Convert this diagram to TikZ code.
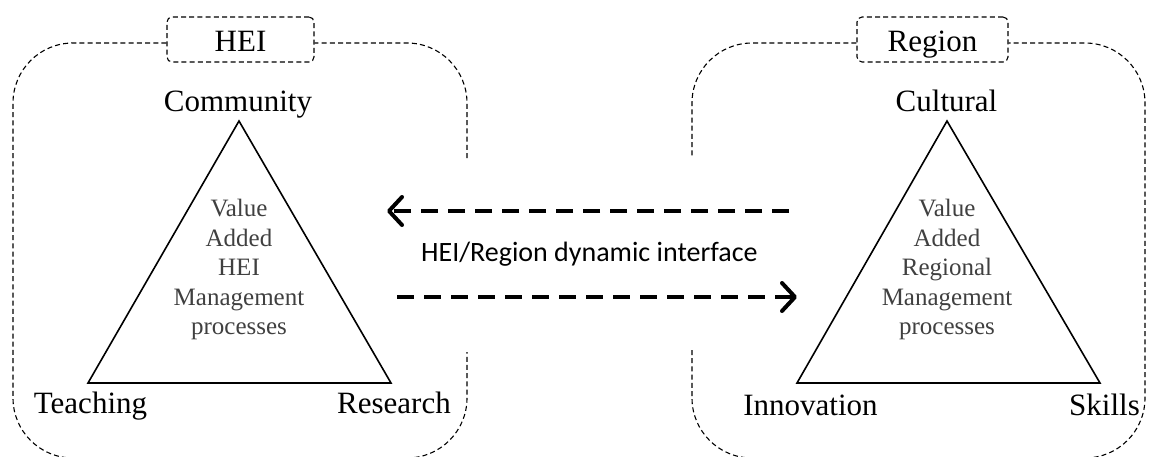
\documentclass[tikz,border=0pt]{standalone}
\usepackage{fontspec}
\setmainfont{Liberation Serif}
\newfontfamily\sansfont{Carlito}
\usetikzlibrary{arrows.meta}
\begin{document}
\begin{tikzpicture}[x=1pt,y=-1pt,
  frame/.style={line width=1.1pt, dash pattern=on 5pt off 3.2pt, rounded corners=60pt},
  tagbox/.style={draw, line width=1.1pt, dash pattern=on 5pt off 3.2pt, rounded corners=5pt,
    minimum width=147pt, minimum height=45pt, inner sep=0pt, text height=23pt, text depth=0pt,
    font=\fontsize{31}{31}\selectfont},
  corner/.style={inner sep=0pt, anchor=base, font=\fontsize{31}{31}\selectfont},
  inner/.style={align=center, inner sep=0pt, anchor=north, text=black!75,
    font=\fontsize{25}{29.5}\selectfont},
  tri/.style={line width=1.6pt, line join=miter},
  flow/.style={line width=4pt, dash pattern=on 17pt off 10pt,
    -{Straight Barb[length=13pt,width=28pt,line cap=round,line join=round]}},
]
\useasboundingbox (0,0) rectangle (1152,456);
\clip (0,0) rectangle (1152,456);

% ---- HEI side ----
\coordinate (Ltl) at (13,43);
\coordinate (Lbl) at (13,458);
\coordinate (Lbr) at (467,458);
\coordinate (Ltr) at (467,43);
\coordinate (Lgaplo) at (467,352);
\coordinate (Lgaphi) at (467,158);
\node[tagbox, minimum width=147pt] (hei) at (240.5,39.5) {HEI};
\draw[frame] (hei.west |- Ltl) -- (Ltl) -- (Lbl) -- (Lbr) -- (Lgaplo);
\draw[frame] (Lgaphi) -- (Ltr) -- (hei.east |- Ltr);

\coordinate (hA) at (239,121);
\coordinate (hL) at (88,383);
\coordinate (hR) at (391,383);
\draw[tri] (hA) -- (hL) -- (hR) -- cycle;
\node[corner] (community) at (238,111) {Community};
\node[corner] (teaching) at (90.5,413) {Teaching};
\node[corner] (research) at (394,413) {Research};
\node[inner] (heiproc) at (239,199) {Value\\Added\\HEI\\Management\\processes};

% ---- Region side ----
\coordinate (Rtl) at (692,43);
\coordinate (Rbl) at (692,458);
\coordinate (Rbr) at (1145,458);
\coordinate (Rtr) at (1145,43);
\coordinate (Rgaplo) at (692,350);
\coordinate (Rgaphi) at (692,157);
\node[tagbox, minimum width=151pt] (region) at (932.5,39.5) {Region};
\draw[frame] (region.west |- Rtl) -- (Rtl) -- (Rgaphi);
\draw[frame] (Rgaplo) -- (Rbl) -- (Rbr) -- (Rtr) -- (region.east |- Rtr);

\coordinate (rA) at (947,121);
\coordinate (rL) at (797,383);
\coordinate (rR) at (1100,383);
\draw[tri] (rA) -- (rL) -- (rR) -- cycle;
\node[corner] (cultural) at (946.5,111) {Cultural};
\node[corner] (innovation) at (810.5,415) {Innovation};
\node[corner] (skills) at (1104.5,415) {Skills};
\node[inner] (regproc) at (947,199) {Value\\Added\\Regional\\Management\\processes};

% ---- interface between the two ----
\coordinate (topR) at (789,211);
\coordinate (topL) at (387,211);
\coordinate (botL) at (397,297);
\coordinate (botR) at (797,297);
\draw[flow] (topR) -- (topL);
\draw[flow] (botL) -- (botR);
\node[inner sep=0pt, anchor=base west, font=\sansfont\fontsize{28}{28}\selectfont]
  (iface) at (421,261) {HEI/Region dynamic interface};
\end{tikzpicture}
\end{document}
